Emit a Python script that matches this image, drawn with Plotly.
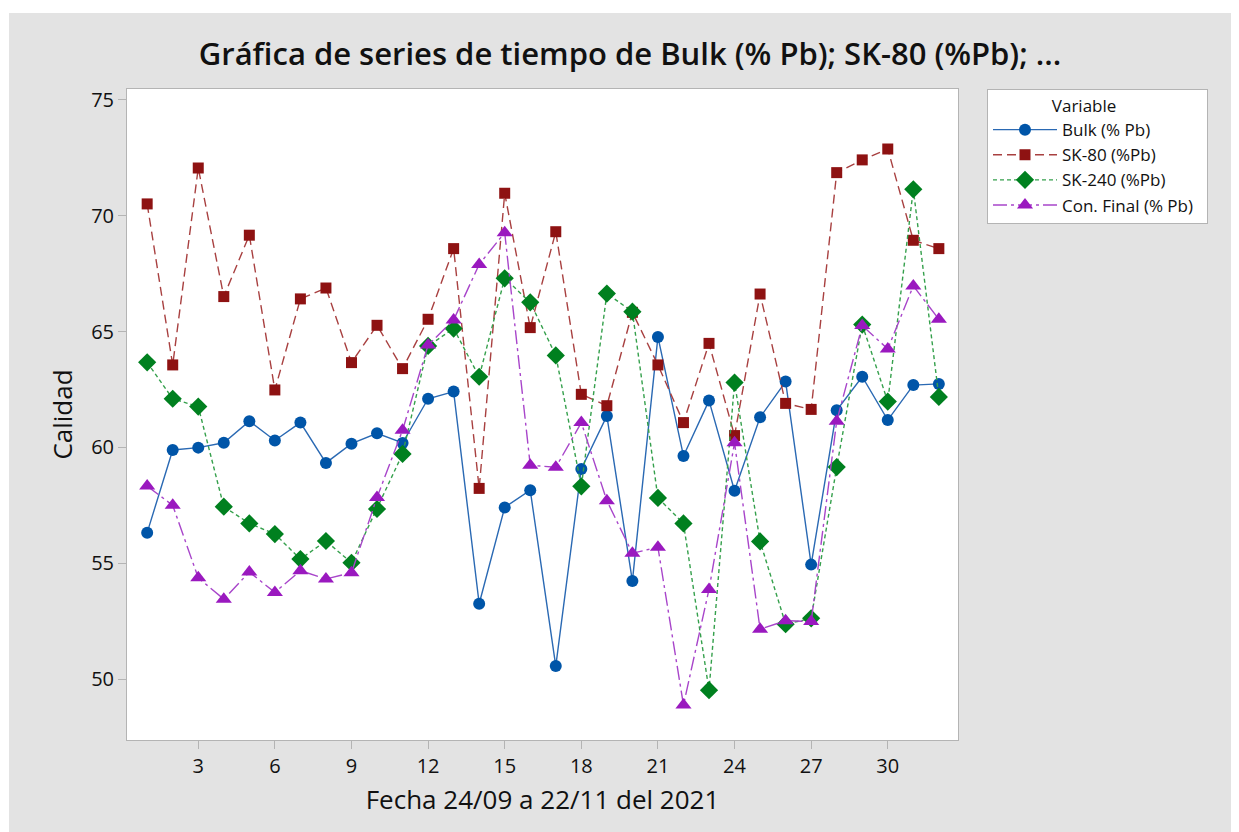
import plotly.graph_objects as go

# ---- data ----
dias = list(range(1, 33))
bulk = [56.32, 59.89, 59.99, 60.20, 61.13, 60.30, 61.07, 59.33, 60.16, 60.61, 60.19,
        62.10, 62.41, 53.25, 57.41, 58.15, 50.56, 59.07, 61.36, 54.23, 64.77, 59.63,
        62.02, 58.13, 61.30, 62.84, 54.94, 61.60, 63.05, 61.18, 62.69, 62.74]
sk80 = [70.51, 63.56, 72.06, 66.51, 69.16, 62.48, 66.41, 66.88, 63.66, 65.27, 63.40,
        65.53, 68.58, 58.23, 70.97, 65.17, 69.31, 62.29, 61.80, 65.83, 63.56, 61.07,
        64.49, 60.51, 66.62, 61.90, 61.64, 71.86, 72.41, 72.88, 68.94, 68.58]
sk240 = [63.67, 62.10, 61.76, 57.44, 56.72, 56.26, 55.18, 55.96, 55.02, 57.34, 59.72,
         64.38, 65.13, 63.05, 67.30, 66.26, 63.97, 58.32, 66.64, 65.86, 57.82, 56.72,
         49.52, 62.80, 55.94, 52.37, 52.62, 59.15, 65.30, 61.98, 71.14, 62.18]
confinal = [58.33, 57.50, 54.37, 53.45, 54.62, 53.74, 54.68, 54.32, 54.59, 57.84, 60.74,
            64.42, 65.50, 67.90, 69.27, 59.23, 59.14, 61.07, 57.70, 55.43, 55.69, 48.88,
            53.87, 60.20, 52.15, 52.52, 52.48, 61.13, 65.26, 64.25, 66.97, 65.53]

nombres = ["Bulk (% Pb)", "SK-80 (%Pb)", "SK-240 (%Pb)", "Con. Final (% Pb)"]
x_ticks = [3, 6, 9, 12, 15, 18, 21, 24, 27, 30]
y_ticks = [50, 55, 60, 65, 70, 75]

FONT = "Open Sans"
TXT = "#1A1A1A"
fig = go.Figure()

series = [
    (bulk, nombres[0], "#0055A8", "#2A69B3", "solid", "circle", 12),
    (sk80, nombres[1], "#8E1212", "#A84040", "9px,5px", "square", 11),
    (sk240, nombres[2], "#00801F", "#35A04C", "4px,3px", "diamond", 14),
    (confinal, nombres[3], "#9A19BF", "#A845CA", "14px,4px,3px,4px", "triangle-up", 14),
]
for vals, name, mcol, lcol, dash, sym, size in series:
    fig.add_trace(go.Scatter(
        x=dias, y=vals, name=name + "\u00a0\u00a0", mode="lines+markers",
        line=dict(color=lcol, width=1.4, dash=dash),
        marker=dict(color=mcol, symbol=sym, size=size, line=dict(width=0)),
    ))

axis_common = dict(
    showline=True, linecolor="#B4B4B4", linewidth=1, mirror=True,
    ticks="outside", ticklen=8, tickcolor="#B4B4B4", tickwidth=1,
    showgrid=False, zeroline=False,
    tickfont=dict(family=FONT, size=20, color="#111111", weight=500),
)

# plot area in figure pixels (page adds 8px offset)
L, R, T, B = 119, 950, 81, 732
W, H = 1239, 832

fig.update_layout(
    width=W, height=H,
    paper_bgcolor="#E3E3E3", plot_bgcolor="white",
    margin=dict(l=L, r=W - R, t=T, b=H - B),
    title=dict(text="Gráfica de series de tiempo de Bulk (% Pb); SK-80 (%Pb); ...",
               x=622 / W, xanchor="center", y=1 - 46 / H, yanchor="middle",
               font=dict(family=FONT, size=31, color="#111111", weight=600)),
    xaxis=dict(range=[0.21, 32.75], tickvals=x_ticks,
               title=dict(text="Fecha 24/09 a 22/11 del 2021", standoff=12,
                          font=dict(family=FONT, size=26, color="#111111", weight=500)),
               **axis_common),
    yaxis=dict(range=[47.37, 75.47], tickvals=y_ticks,
               title=dict(text="Calidad", standoff=11,
                          font=dict(family=FONT, size=26, color="#111111", weight=500)),
               **axis_common),
    legend=dict(
        x=(979 - L) / (R - L), xanchor="left", y=1, yanchor="top",
        bgcolor="white", bordercolor="#B4B4B4", borderwidth=1,
        font=dict(family=FONT, size=17, color="#111111", weight=500),
        title=dict(text="\u00a0" * 14 + "Variable",
                   font=dict(family=FONT, size=17, color="#111111", weight=500)),
        itemwidth=64, tracegroupgap=0,
    ),
    showlegend=True,
    shapes=[
        dict(type="rect", xref="paper", yref="paper",
             x0=-0.3, x1=1.6, y0=(B - 5) / (B - T), y1=(B + 2) / (B - T),
             fillcolor="white", line=dict(width=0), layer="above"),
        dict(type="rect", xref="paper", yref="paper",
             x0=-0.3, x1=(1 - L) / (R - L), y0=-0.3, y1=1.3,
             fillcolor="white", line=dict(width=0), layer="above"),
    ],
)

fig.write_html("out.html")
